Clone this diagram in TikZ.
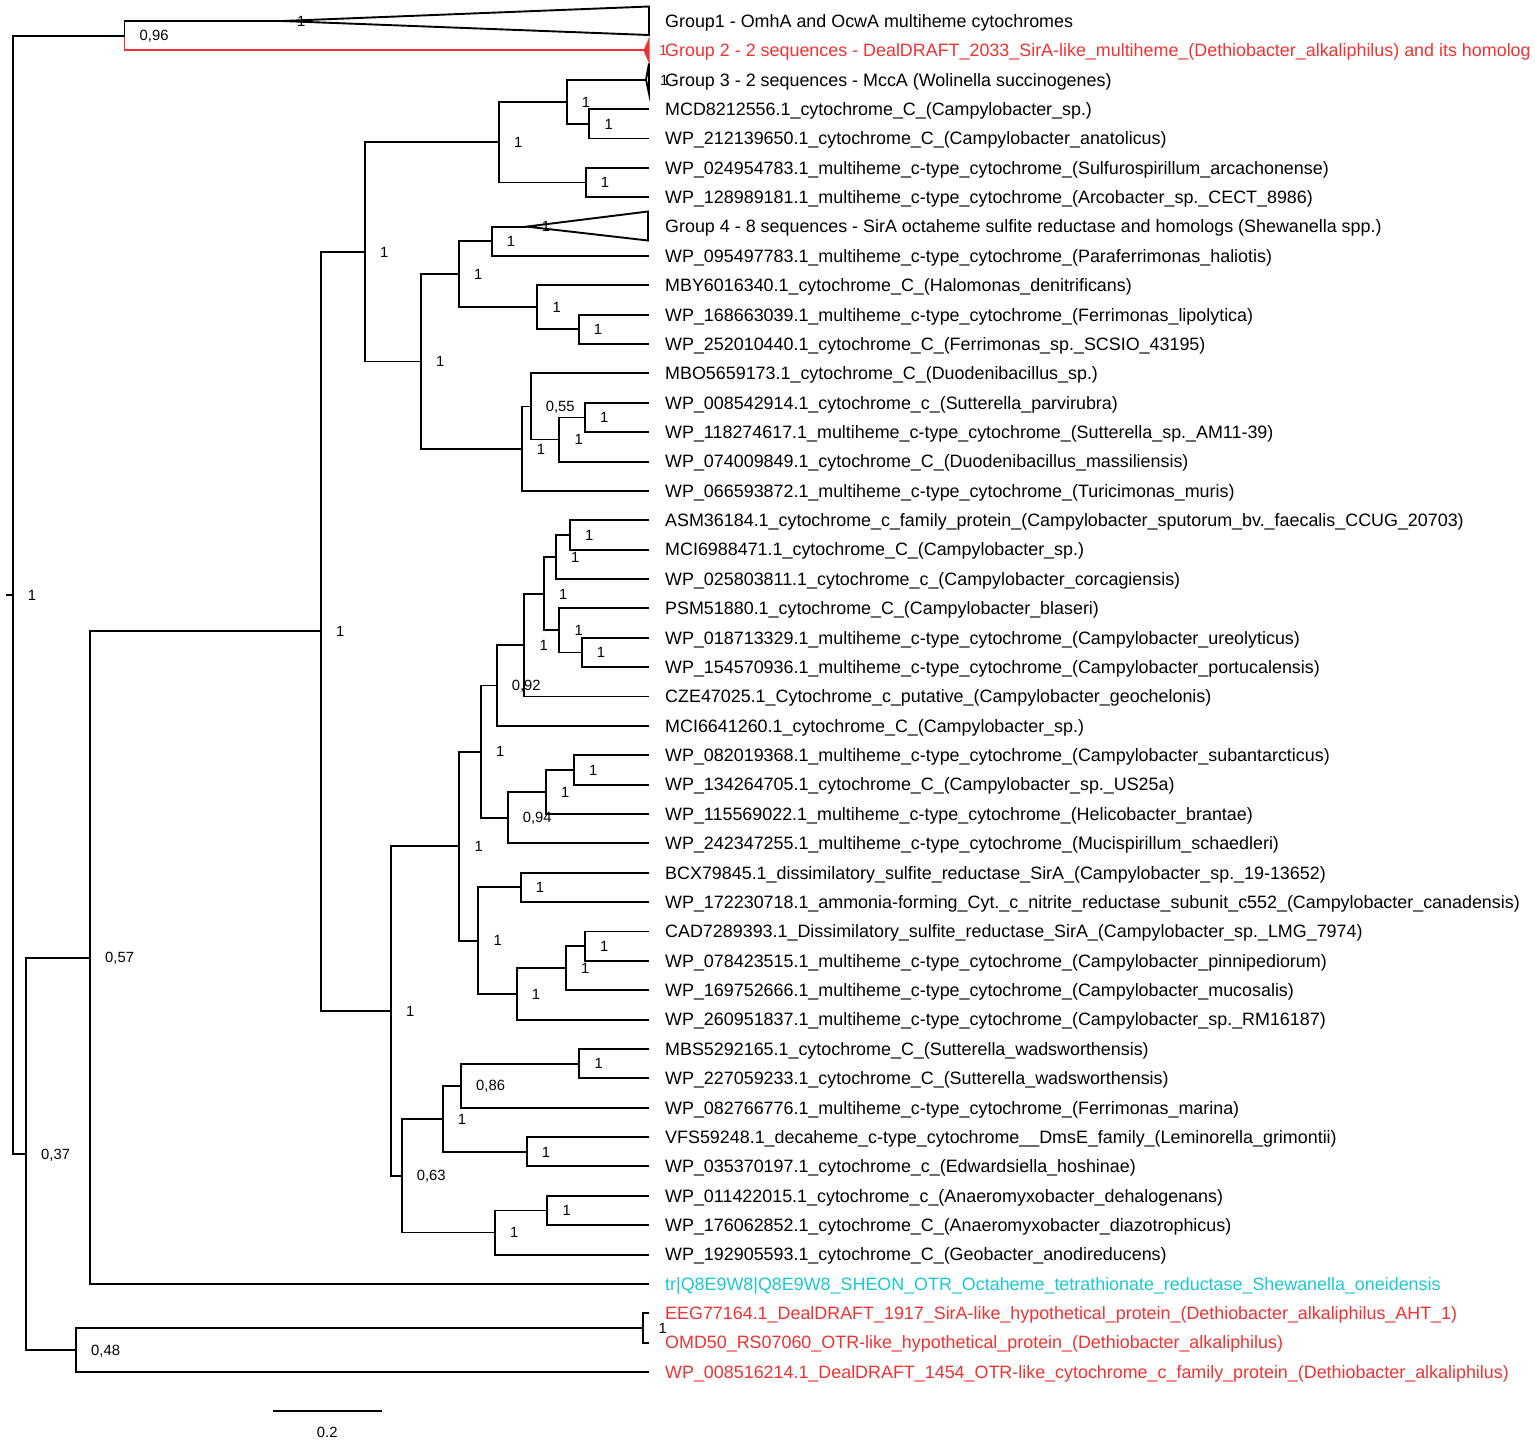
\documentclass[tikz,border=0pt]{standalone}
\usepackage{fontspec}
\setmainfont{Liberation Sans}
\usetikzlibrary{calc}
\definecolor{redc}{RGB}{240,50,50}
\definecolor{cyanc}{RGB}{25,200,210}
\tikzset{
  br/.style={line width=1.9pt, line join=miter},
  leaftext/.style={anchor=base west, inner sep=0pt, font=\fontsize{17.9}{20}\selectfont},
  lab/.style={anchor=base west, inner sep=0pt, font=\fontsize{14.8}{16}\selectfont},
}
\newcommand\tipleaf[3]{%
  \coordinate (L#1) at (649,{21+29.37*#1});
  \node[leaftext,#2] (T#1) at (665,{21+29.37*#1+6.3}) {#3};
}
\newcommand\clade[5]{%
  \path let \p1=(#3),\p2=(#4) in (#2pt,{0.5*(\y1+\y2)}) coordinate (#1);
  \draw[br] (#3) -| (#1) |- (#4);
  \node[lab] (#1l) at ($(#1)+(15,5.3)$) {#5};
}
\begin{document}
\begin{tikzpicture}[x=1pt,y=-1pt]
\useasboundingbox (0,0) rectangle (1535,1444);
% ---------- leaves ----------
\tipleaf{0}{}{Group1 - OmhA and OcwA multiheme cytochromes}
\tipleaf{1}{text=redc}{Group 2 - 2 sequences - DealDRAFT\_2033\_SirA-like\_multiheme\_(Dethiobacter\_alkaliphilus) and its homolog}
\tipleaf{2}{}{Group 3 - 2 sequences - MccA (Wolinella succinogenes)}
\tipleaf{3}{}{MCD8212556.1\_cytochrome\_C\_(Campylobacter\_sp.)}
\tipleaf{4}{}{WP\_212139650.1\_cytochrome\_C\_(Campylobacter\_anatolicus)}
\tipleaf{5}{}{WP\_024954783.1\_multiheme\_c-type\_cytochrome\_(Sulfurospirillum\_arcachonense)}
\tipleaf{6}{}{WP\_128989181.1\_multiheme\_c-type\_cytochrome\_(Arcobacter\_sp.\_CECT\_8986)}
\tipleaf{7}{}{Group 4 - 8 sequences - SirA octaheme sulfite reductase and homologs (Shewanella spp.)}
\tipleaf{8}{}{WP\_095497783.1\_multiheme\_c-type\_cytochrome\_(Paraferrimonas\_haliotis)}
\tipleaf{9}{}{MBY6016340.1\_cytochrome\_C\_(Halomonas\_denitrificans)}
\tipleaf{10}{}{WP\_168663039.1\_multiheme\_c-type\_cytochrome\_(Ferrimonas\_lipolytica)}
\tipleaf{11}{}{WP\_252010440.1\_cytochrome\_C\_(Ferrimonas\_sp.\_SCSIO\_43195)}
\tipleaf{12}{}{MBO5659173.1\_cytochrome\_C\_(Duodenibacillus\_sp.)}
\tipleaf{13}{}{WP\_008542914.1\_cytochrome\_c\_(Sutterella\_parvirubra)}
\tipleaf{14}{}{WP\_118274617.1\_multiheme\_c-type\_cytochrome\_(Sutterella\_sp.\_AM11-39)}
\tipleaf{15}{}{WP\_074009849.1\_cytochrome\_C\_(Duodenibacillus\_massiliensis)}
\tipleaf{16}{}{WP\_066593872.1\_multiheme\_c-type\_cytochrome\_(Turicimonas\_muris)}
\tipleaf{17}{}{ASM36184.1\_cytochrome\_c\_family\_protein\_(Campylobacter\_sputorum\_bv.\_faecalis\_CCUG\_20703)}
\tipleaf{18}{}{MCI6988471.1\_cytochrome\_C\_(Campylobacter\_sp.)}
\tipleaf{19}{}{WP\_025803811.1\_cytochrome\_c\_(Campylobacter\_corcagiensis)}
\tipleaf{20}{}{PSM51880.1\_cytochrome\_C\_(Campylobacter\_blaseri)}
\tipleaf{21}{}{WP\_018713329.1\_multiheme\_c-type\_cytochrome\_(Campylobacter\_ureolyticus)}
\tipleaf{22}{}{WP\_154570936.1\_multiheme\_c-type\_cytochrome\_(Campylobacter\_portucalensis)}
\tipleaf{23}{}{CZE47025.1\_Cytochrome\_c\_putative\_(Campylobacter\_geochelonis)}
\tipleaf{24}{}{MCI6641260.1\_cytochrome\_C\_(Campylobacter\_sp.)}
\tipleaf{25}{}{WP\_082019368.1\_multiheme\_c-type\_cytochrome\_(Campylobacter\_subantarcticus)}
\tipleaf{26}{}{WP\_134264705.1\_cytochrome\_C\_(Campylobacter\_sp.\_US25a)}
\tipleaf{27}{}{WP\_115569022.1\_multiheme\_c-type\_cytochrome\_(Helicobacter\_brantae)}
\tipleaf{28}{}{WP\_242347255.1\_multiheme\_c-type\_cytochrome\_(Mucispirillum\_schaedleri)}
\tipleaf{29}{}{BCX79845.1\_dissimilatory\_sulfite\_reductase\_SirA\_(Campylobacter\_sp.\_19-13652)}
\tipleaf{30}{}{WP\_172230718.1\_ammonia-forming\_Cyt.\_c\_nitrite\_reductase\_subunit\_c552\_(Campylobacter\_canadensis)}
\tipleaf{31}{}{CAD7289393.1\_Dissimilatory\_sulfite\_reductase\_SirA\_(Campylobacter\_sp.\_LMG\_7974)}
\tipleaf{32}{}{WP\_078423515.1\_multiheme\_c-type\_cytochrome\_(Campylobacter\_pinnipediorum)}
\tipleaf{33}{}{WP\_169752666.1\_multiheme\_c-type\_cytochrome\_(Campylobacter\_mucosalis)}
\tipleaf{34}{}{WP\_260951837.1\_multiheme\_c-type\_cytochrome\_(Campylobacter\_sp.\_RM16187)}
\tipleaf{35}{}{MBS5292165.1\_cytochrome\_C\_(Sutterella\_wadsworthensis)}
\tipleaf{36}{}{WP\_227059233.1\_cytochrome\_C\_(Sutterella\_wadsworthensis)}
\tipleaf{37}{}{WP\_082766776.1\_multiheme\_c-type\_cytochrome\_(Ferrimonas\_marina)}
\tipleaf{38}{}{VFS59248.1\_decaheme\_c-type\_cytochrome\_\_DmsE\_family\_(Leminorella\_grimontii)}
\tipleaf{39}{}{WP\_035370197.1\_cytochrome\_c\_(Edwardsiella\_hoshinae)}
\tipleaf{40}{}{WP\_011422015.1\_cytochrome\_c\_(Anaeromyxobacter\_dehalogenans)}
\tipleaf{41}{}{WP\_176062852.1\_cytochrome\_C\_(Anaeromyxobacter\_diazotrophicus)}
\tipleaf{42}{}{WP\_192905593.1\_cytochrome\_C\_(Geobacter\_anodireducens)}
\tipleaf{43}{text=cyanc}{tr|Q8E9W8|Q8E9W8\_SHEON\_OTR\_Octaheme\_tetrathionate\_reductase\_Shewanella\_oneidensis}
\tipleaf{44}{text=redc}{EEG77164.1\_DealDRAFT\_1917\_SirA-like\_hypothetical\_protein\_(Dethiobacter\_alkaliphilus\_AHT\_1)}
\tipleaf{45}{text=redc}{OMD50\_RS07060\_OTR-like\_hypothetical\_protein\_(Dethiobacter\_alkaliphilus)}
\tipleaf{46}{text=redc}{WP\_008516214.1\_DealDRAFT\_1454\_OTR-like\_cytochrome\_c\_family\_protein\_(Dethiobacter\_alkaliphilus)}
% ---------- collapsed groups (apex replaces the tip) ----------
\coordinate (L0) at (282,21);
\coordinate (g1t) at (649,6.5);
\coordinate (g1b) at (649,35);
\draw[br] (L0) -- (g1t) -- (g1b) -- cycle;
\node[lab] (g1l) at ($(L0)+(15,5.3)$) {1};
\coordinate (L1) at (644,50.37);
\coordinate (g2t) at (649,39);
\coordinate (g2b) at (649,62);
\draw[br,redc,fill=redc,line width=1pt] (L1) -- (g2t) -- (g2b) -- cycle;
\node[lab,text=redc] (g2l) at ($(L1)+(15,5.3)$) {1};
\coordinate (L2) at (646,79.74);
\coordinate (g3t) at (649,63.5);
\coordinate (g3b) at (649,93.5);
\draw[br] (L2) -- (g3t) -- (g3b) -- cycle;
\node[lab] (g3l) at ($(L2)+(14,5.3)$) {1};
\coordinate (L7) at (526.7,226.59);
\coordinate (g4t) at (648,211.5);
\coordinate (g4b) at (648,240.5);
\draw[br] (L7) -- (g4t) -- (g4b) -- cycle;
\node[lab] (g4l) at ($(L7)+(15,5.3)$) {1};
% ---------- upper clade ----------
\clade{n1}{589.3}{L3}{L4}{1}
\clade{n2}{566.7}{L2}{n1}{1}
\clade{n3}{585.7}{L5}{L6}{1}
\clade{n4}{499}{n2}{n3}{1}
\clade{n5}{491.7}{L7}{L8}{1}
\clade{n6}{578.7}{L10}{L11}{1}
\clade{n7}{537.3}{L9}{n6}{1}
\clade{n8}{459}{n5}{n7}{1}
\clade{n9}{585}{L13}{L14}{1}
\clade{n10}{559.3}{n9}{L15}{1}
\clade{n11}{530.7}{L12}{n10}{0,55}
\clade{n12}{521.7}{n11}{L16}{1}
\clade{n13}{421}{n8}{n12}{1}
\clade{n14}{365}{n4}{n13}{1}
% ---------- Campylobacter clade ----------
\clade{m1}{570}{L17}{L18}{1}
\clade{m2}{556}{m1}{L19}{1}
\clade{m3}{581.7}{L21}{L22}{1}
\clade{m4}{559.3}{L20}{m3}{1}
\clade{m5}{544}{m2}{m4}{1}
\clade{m6}{524.3}{m5}{L23}{1}
\clade{m7}{496.7}{m6}{L24}{0,92}
\clade{m8}{574}{L25}{L26}{1}
\clade{m9}{546}{m8}{L27}{1}
\clade{m10}{507.7}{m9}{L28}{0,94}
\clade{m11}{481}{m7}{m10}{1}
\clade{m12}{520.7}{L29}{L30}{1}
\clade{m13}{585}{L31}{L32}{1}
\clade{m14}{566}{m13}{L33}{1}
\clade{m15}{516.7}{m14}{L34}{1}
\clade{m16}{478.3}{m12}{m15}{1}
\clade{m17}{459.3}{m11}{m16}{1}
% ---------- Sutterella / Anaeromyxobacter clade ----------
\clade{s1}{579.3}{L35}{L36}{1}
\clade{s2}{461}{s1}{L37}{0,86}
\clade{s3}{526.7}{L38}{L39}{1}
\clade{s4}{442.7}{s2}{s3}{1}
\clade{s5}{547.3}{L40}{L41}{1}
\clade{s6}{495}{s5}{L42}{1}
\clade{s7}{401.7}{s4}{s6}{0,63}
\clade{m18}{391}{m17}{s7}{1}
\clade{x3}{321}{n14}{m18}{1}
\clade{z}{90}{x3}{L43}{0,57}
% ---------- Dethiobacter ----------
\clade{wb}{643.3}{L44}{L45}{1}
\clade{w}{76}{wb}{L46}{0,48}
\clade{y}{26}{z}{w}{0,37}
% ---------- top pair ----------
\path let \p1=(L0),\p2=(L1) in (124.5pt,{0.5*(\y1+\y2)}) coordinate (nA);
\draw[br] (L0) -| (nA);
\draw[br,redc] (nA) |- (L1);
\node[lab] (nAl) at ($(nA)+(15,5.3)$) {0,96};
% ---------- root ----------
\clade{root}{12.7}{nA}{y}{1}
\path let \p1=(root) in (6pt,\y1) coordinate (rstub);
\draw[br] (rstub) -- (root);
% ---------- scale bar ----------
\coordinate (sb1) at (272.7,1411);
\coordinate (sb2) at (381.7,1411);
\draw[br] (sb1) -- (sb2);
\node[lab,anchor=base] (sbl) at (327.2,1437.3) {0.2};
\end{tikzpicture}
\end{document}
